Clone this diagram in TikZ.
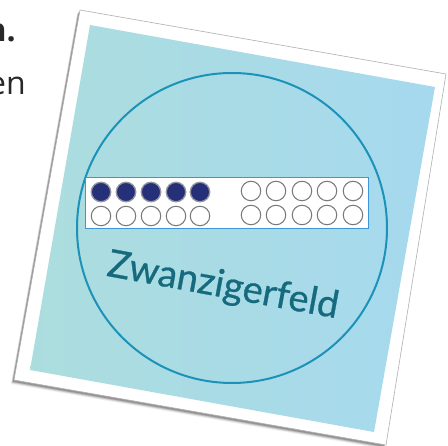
\documentclass[tikz,border=0pt]{standalone}
\usepackage{fontspec}
\newfontfamily\osans{Open Sans}
\newfontfamily\latofont[FakeBold=0.7]{Lato}
\begin{document}
\begin{tikzpicture}[x=1pt,y=-1pt,
  bead/.style={circle, minimum size=19.5pt, inner sep=0pt, line width=1pt},
  emptybead/.style={bead, draw={rgb,255:red,120;green,120;blue,120}, fill=white},
  fullbead/.style={bead, draw={rgb,255:red,150;green,150;blue,160}, fill={rgb,255:red,38;green,48;blue,120}, line width=1.3pt},
  shadowlayer/.style={fill=black}
]
\useasboundingbox (0,0) rectangle (448,446);
\fill[white] (0,0) rectangle (448,446);
% top-left cut-off text
\node[font=\osans\bfseries\fontsize{32}{38}\selectfont, anchor=base east, text={rgb,255:red,40;green,40;blue,40}, inner sep=0pt] (t1) at (16,42) {n.};
\node[font=\osans\fontsize{32}{38}\selectfont, anchor=base east, text={rgb,255:red,40;green,40;blue,40}, inner sep=0pt] (t2) at (26,95) {en};
% card corners
\coordinate (oTL) at (80,10);
\coordinate (oTR) at (446,74);
\coordinate (oBR) at (386,445);
\coordinate (oBL) at (14,380);
\coordinate (iTL) at (90,25);
\coordinate (iTR) at (435,87);
\coordinate (iBR) at (374,432);
\coordinate (iBL) at (30,370);
% shadow
\foreach \dx/\dy/\op in {-3/4/0.06, -2.5/3.2/0.09, -2/2.5/0.14, -1.4/1.8/0.2} {
  \fill[shadowlayer, opacity=\op] ([shift={(\dx,\dy)}]oTL) -- ([shift={(\dx,\dy)}]oTR) -- ([shift={(\dx,\dy)}]oBR) -- ([shift={(\dx,\dy)}]oBL) -- cycle;
}
% card
\fill[white, draw={rgb,255:red,175;green,175;blue,175}, line width=0.6pt] (oTL) -- (oTR) -- (oBR) -- (oBL) -- cycle;
\shade[left color={rgb,255:red,172;green,221;blue,222}, right color={rgb,255:red,166;green,217;blue,238}] (iTL) -- (iTR) -- (iBR) -- (iBL) -- cycle;
% big circle
\node[circle, draw={rgb,255:red,28;green,146;blue,184}, line width=2pt, minimum size=310pt, inner sep=0pt] (ring) at (232,228) {};
% twenty field
\node[draw={rgb,255:red,60;green,150;blue,215}, fill=white, line width=1pt, minimum width=283pt, minimum height=51pt, inner sep=0pt] (field) at (226.5,203) {};
\foreach \i/\x in {1/101,2/126,3/151,4/176,5/200} {
  \node[fullbead] (a\i) at (\x,192) {};
  \node[emptybead] (b\i) at (\x,216) {};
}
\foreach \i/\x in {1/251,2/276,3/302,4/327,5/353} {
  \node[emptybead] (c\i) at (\x,191) {};
  \node[emptybead] (d\i) at (\x,215) {};
}
% label
\node[font=\latofont\fontsize{38}{42}\selectfont, text={rgb,255:red,22;green,106;blue,126}, rotate=-10.5, anchor=base, inner sep=0pt] (label) at (221,297) {Zwanzigerfeld};
\end{tikzpicture}
\end{document}
